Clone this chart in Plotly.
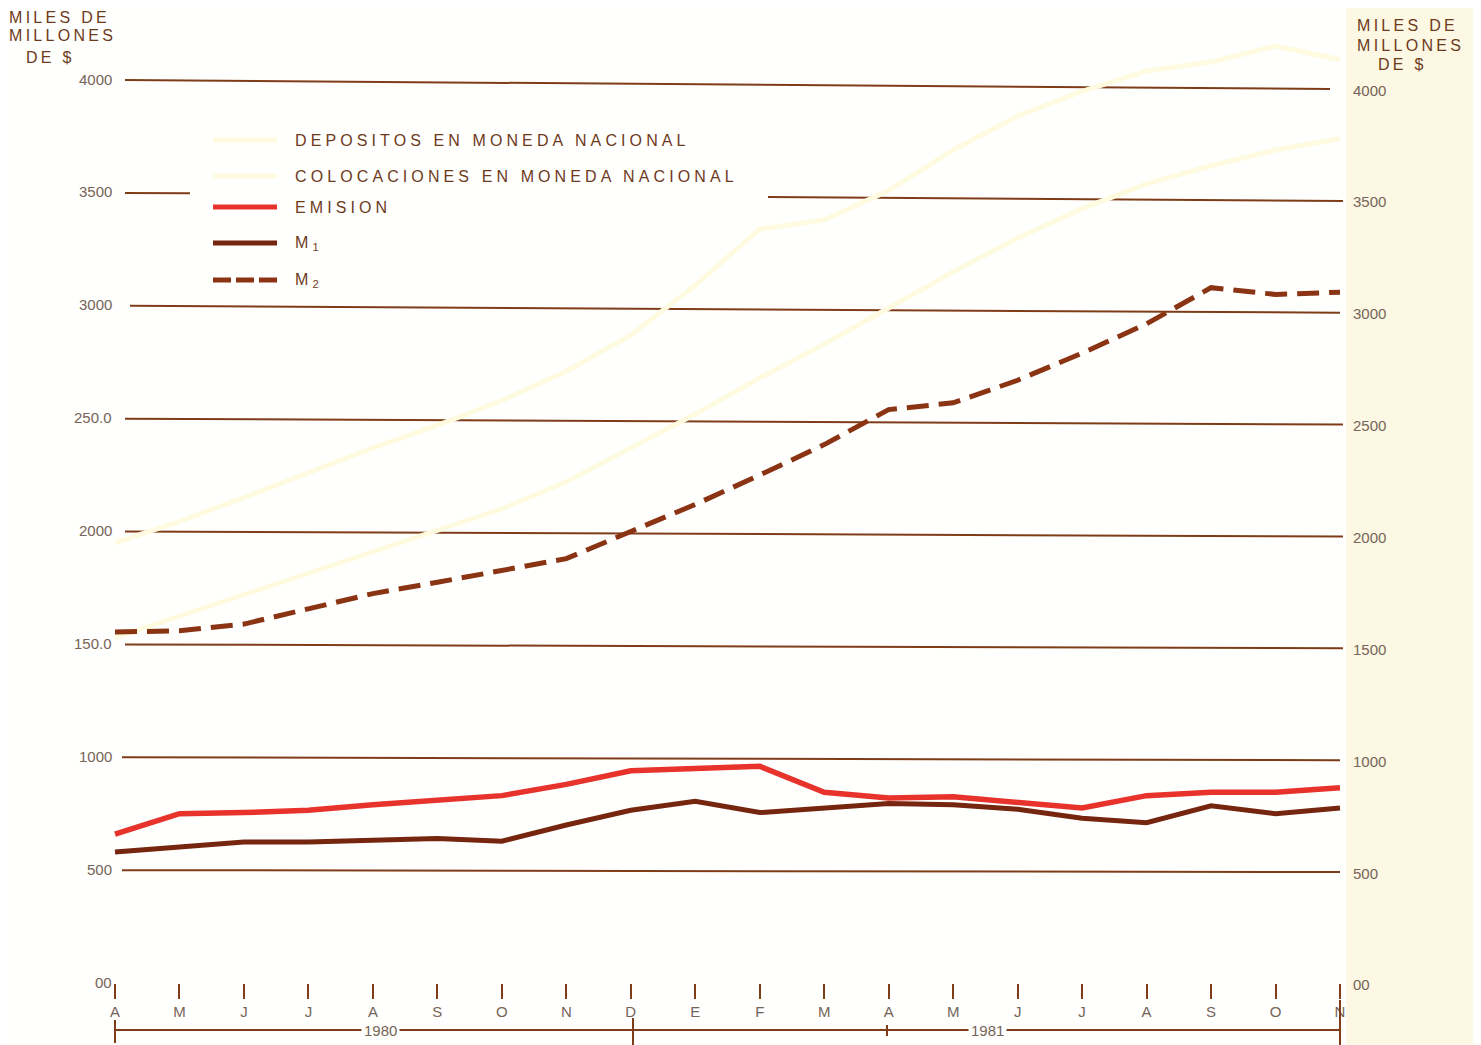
import plotly.graph_objects as go

# ---------------- data ----------------
months = ["A", "M", "J", "J", "A", "S", "O", "N", "D", "E",
          "F", "M", "A", "M", "J", "J", "A", "S", "O", "N"]
depositos = [1950, 2045, 2150, 2260, 2370, 2470, 2580, 2710, 2870, 3090,
             3340, 3380, 3510, 3690, 3840, 3950, 4040, 4080, 4150, 4090]
colocaciones = [1530, 1625, 1720, 1815, 1910, 2000, 2100, 2220, 2370, 2520,
                2680, 2830, 2990, 3150, 3300, 3430, 3540, 3620, 3690, 3740]
emision = [660, 750, 755, 765, 790, 810, 830, 880, 940, 950,
           960, 845, 820, 825, 800, 775, 830, 845, 845, 865]
m1 = [580, 600, 625, 625, 635, 640, 628, 700, 765, 805,
      755, 775, 795, 790, 770, 730, 710, 785, 750, 775]
m2 = [1555, 1560, 1590, 1655, 1725, 1775, 1825, 1880, 2000, 2120,
      2250, 2385, 2540, 2570, 2670, 2790, 2920, 3080, 3050, 3060]
grid_vals = [4000, 3500, 3000, 2500, 2000, 1500, 1000, 500]
left_labels = ["4000", "3500", "3000", "250.0", "2000", "150.0", "1000", "500", "00"]
right_labels = ["4000", "3500", "3000", "2500", "2000", "1500", "1000", "500", "00"]
label_vals = [4000, 3500, 3000, 2500, 2000, 1500, 1000, 500, 0]
years = ["1980", "1981"]

x = list(range(len(months)))

# ---------------- geometry (page pixels of the reference) ----------------
OFF = 8                      # page body margin
PAGE_W, PAGE_H = 1481, 1045
W, H = PAGE_W - OFF, PAGE_H - OFF
# plot area in page pixels
PL, PR, PT, PB = 100, 1360, 22, 983
L, R, T, B = PL - OFF, W - (PR - OFF), PT - OFF, H - (PB - OFF)
PW, PH = PR - PL, PB - PT
X0PX, X1PX = 115, 1340
UNIT = (X1PX - X0PX) / (len(months) - 1)
xr = [-(X0PX - PL) / UNIT, (len(months) - 1) + (PR - X1PX) / UNIT]
YSC = 0.22575
yr = [0, PH / YSC]

def px2x(px):
    return (px - X0PX) / UNIT

def py2y(py):
    return (PB - py) / YSC

def pxp(px):
    return (px - PL) / PW

def pyp(py):
    return (PB - py) / PH

def tilt(v):
    return 0 if v == 0 else v * 0.009 + 4

BROWN = "#7e3d18"
TXT = "#6e3a1c"
TICKTXT = "#766458"
RED = "#e8322c"
M1C = "#76260f"
M2C = "#8a3413"
YEL = "#fefbe0"
FONT = "Liberation Sans, Arial, sans-serif"

fig = go.Figure()

fig.add_trace(go.Scatter(x=x, y=depositos, mode="lines", name="DEPOSITOS EN MONEDA NACIONAL",
                         line=dict(color=YEL, width=5)))
fig.add_trace(go.Scatter(x=x, y=colocaciones, mode="lines", name="COLOCACIONES EN MONEDA NACIONAL",
                         line=dict(color=YEL, width=5)))
fig.add_trace(go.Scatter(x=x, y=emision, mode="lines", name="EMISION",
                         line=dict(color=RED, width=5.5)))
fig.add_trace(go.Scatter(x=x, y=m1, mode="lines", name="M1",
                         line=dict(color=M1C, width=5)))
fig.add_trace(go.Scatter(x=x, y=m2, mode="lines", name="M2",
                         line=dict(color=M2C, width=5, dash="22px,10px")))

shapes = []
# background tint at right margin
shapes.append(dict(type="rect", xref="paper", yref="paper", x0=pxp(1346), x1=pxp(PAGE_W + 5),
                   y0=pyp(PAGE_H + 5), y1=pyp(-5), fillcolor="#fcf8e4", line=dict(width=0),
                   layer="below"))

# horizontal gridlines (slightly tilted, like the scan)
starts = {4000: 125, 3500: 125, 3000: 130, 2500: 125, 2000: 125, 1500: 125, 1000: 122, 500: 122}
ends = {4000: 1330, 3500: 1343, 3000: 1340, 2500: 1343, 2000: 1343, 1500: 1343, 1000: 1340, 500: 1340}
for v in grid_vals:
    a, b = px2x(starts[v]), px2x(ends[v])
    if v == 3500:
        segs = [(a, px2x(190)), (px2x(768), b)]
    else:
        segs = [(a, b)]
    for s0, s1 in segs:
        f0 = (s0 - a) / (b - a)
        f1 = (s1 - a) / (b - a)
        shapes.append(dict(type="line", xref="x", yref="y", x0=s0, x1=s1,
                           y0=v - tilt(v) * f0, y1=v - tilt(v) * f1,
                           line=dict(color=BROWN, width=2), layer="below"))

# legend samples
leg_y = [140, 176, 207, 243, 280]
leg_cols = [YEL, YEL, RED, M1C, M2C]
for i, (py, c) in enumerate(zip(leg_y, leg_cols)):
    shapes.append(dict(type="line", xref="x", yref="y", x0=px2x(213), x1=px2x(277),
                       y0=py2y(py), y1=py2y(py),
                       line=dict(color=c, width=5, dash="18px,5px" if i == 4 else "solid")))

# year bracket at bottom
by = 1030
shapes.append(dict(type="line", xref="paper", yref="paper", x0=pxp(X0PX), x1=pxp(X1PX),
                   y0=pyp(by), y1=pyp(by), line=dict(color=BROWN, width=2)))
for px, ya, yb in [(X0PX, 1020, 1043), (633, 1018, 1045), (X1PX, 1000, 1045), (887, 1025, 1036)]:
    shapes.append(dict(type="line", xref="paper", yref="paper", x0=pxp(px), x1=pxp(px),
                       y0=pyp(ya), y1=pyp(yb), line=dict(color=BROWN, width=2)))

annotations = []
# y labels
for v, lt, rt in zip(label_vals, left_labels, right_labels):
    annotations.append(dict(x=pxp(114), xref="paper", y=v, yref="y", text=lt, showarrow=False,
                            xanchor="right", yanchor="middle", yshift=1,
                            font=dict(family=FONT, size=15, color=TICKTXT)))
    annotations.append(dict(x=pxp(1351), xref="paper", y=v - tilt(v), yref="y", text=rt,
                            showarrow=False, xanchor="left", yanchor="middle", yshift=-1,
                            font=dict(family=FONT, size=15, color=TICKTXT)))

# axis unit titles
def unit_title(xpx, ypx, txt):
    annotations.append(dict(x=pxp(xpx), xref="paper", y=pyp(ypx), yref="paper",
                            text='<span style="letter-spacing:3.3px">' + txt + '</span>',
                            showarrow=False, xanchor="left", yanchor="middle",
                            font=dict(family=FONT, size=16, color=TXT)))

unit_title(7, 17, "MILES DE")
unit_title(7, 36, "MILLONES")
unit_title(24, 57, "DE $")
unit_title(1355, 25, "MILES DE")
unit_title(1355, 45, "MILLONES")
unit_title(1376, 65, "DE $")

# legend texts
leg_txt = ["DEPOSITOS EN MONEDA NACIONAL", "COLOCACIONES EN MONEDA NACIONAL", "EMISION",
           "M<sub>1</sub>", "M<sub>2</sub>"]
for py, t in zip(leg_y, leg_txt):
    annotations.append(dict(x=px2x(293), xref="x", y=py2y(py), yref="y",
                            text='<span style="letter-spacing:4.1px">' + t + '</span>',
                            showarrow=False, xanchor="left", yanchor="middle",
                            font=dict(family=FONT, size=16, color=TXT)))

# years
for xp, t in zip([380, 987], years):
    annotations.append(dict(x=pxp(xp), xref="paper", y=pyp(by), yref="paper", text=t,
                            showarrow=False, xanchor="center", yanchor="middle",
                            bgcolor="#fffffd", borderpad=2,
                            font=dict(family=FONT, size=15, color=TICKTXT)))

fig.update_layout(
    width=W, height=H,
    margin=dict(l=L, r=R, t=T, b=B, autoexpand=False),
    paper_bgcolor="#fffffd", plot_bgcolor="rgba(0,0,0,0)",
    showlegend=False,
    shapes=shapes, annotations=annotations,
    xaxis=dict(range=xr, tickmode="array", tickvals=x, ticktext=months,
               showgrid=False, zeroline=False, showline=False,
               ticks="outside", ticklen=15, tickwidth=2, tickcolor=BROWN,
               tickfont=dict(family=FONT, size=15, color=TICKTXT), fixedrange=True),
    yaxis=dict(range=yr, showgrid=False, zeroline=False, showline=False,
               showticklabels=False, ticks="", fixedrange=True),
)

fig.write_html("out.html")
